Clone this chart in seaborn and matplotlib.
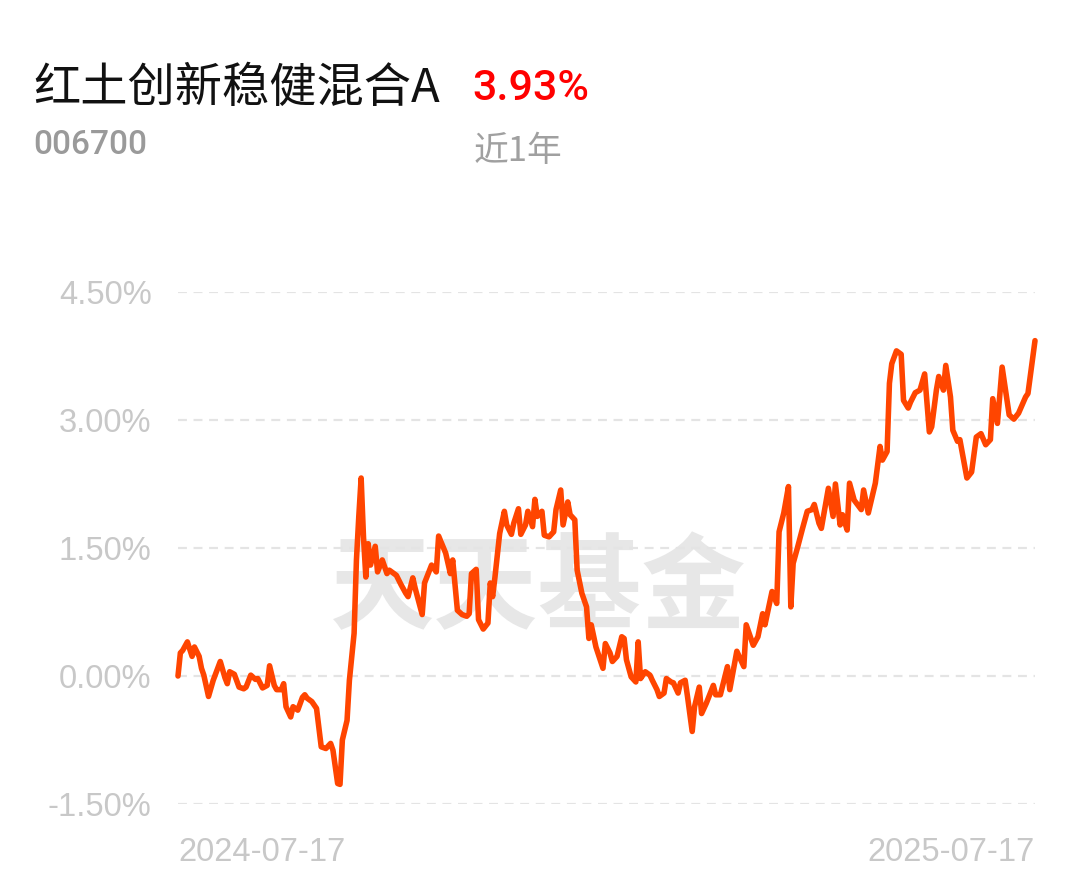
import numpy as np
import pandas as pd
import matplotlib
matplotlib.use("Agg")
import matplotlib.pyplot as plt
import seaborn as sns

# ---------------- data ----------------
fund_name = "红土创新稳健混合A"
fund_code = "006700"
period_return = "3.93%"
period_label = "近1年"
watermark = "天天基金"

start_date = "2024-07-17"
end_date = "2025-07-17"

day_offsets = [
    0, 1, 2, 4, 6, 7, 9, 10, 11, 13, 15, 18, 20, 21, 22, 24, 26, 28, 29, 31,
    33, 34, 36, 38, 39, 41, 42, 44, 45, 46, 48, 49, 51, 53, 54, 55, 57, 59, 61, 63,
    65, 66, 68, 69, 70, 72, 73, 75, 76, 77, 78, 79, 80, 81, 82, 84, 85, 87, 89, 90,
    93, 95, 97, 98, 100, 101, 104, 105, 108, 110, 111, 114, 116, 117, 119, 121, 123, 124, 125, 127,
    128, 130, 132, 133, 134, 135, 137, 139, 140, 142, 143, 145, 146, 148, 149, 151, 152, 153, 155, 156,
    158, 160, 161, 163, 164, 166, 167, 169, 170, 172, 174, 175, 176, 178, 181, 182, 184, 185, 187, 189,
    190, 191, 193, 195, 196, 197, 199, 201, 202, 204, 205, 207, 208, 210, 211, 213, 214, 216, 217, 219,
    220, 222, 223, 225, 228, 229, 231, 234, 235, 238, 241, 242, 245, 247, 249, 250, 253, 255, 256, 258,
    260, 261, 262, 264, 266, 268, 270, 271, 273, 274, 277, 279, 280, 282, 283, 285, 286, 288, 291, 292,
    294, 296, 297, 299, 300, 302, 303, 304, 306, 308, 309, 311, 312, 314, 316, 318, 320, 321, 323, 324,
    326, 327, 329, 330, 332, 333, 336, 338, 340, 342, 344, 346, 347, 349, 351, 354, 356, 358, 361, 362,
    365,
]

returns = [
    0.00, 0.27, 0.30, 0.40, 0.23, 0.34, 0.23, 0.09, 0.01, -0.24, -0.05, 0.17, -0.02, -0.09, 0.05, 0.02, -0.13, -0.15, -0.13, 0.01,
    -0.04, -0.03, -0.14, -0.11, 0.12, -0.11, -0.16, -0.16, -0.09, -0.36, -0.48, -0.36, -0.40, -0.25, -0.22, -0.26, -0.30, -0.38, -0.83, -0.85,
    -0.79, -0.87, -1.26, -1.27, -0.75, -0.52, -0.05, 0.50, 1.36, 1.87, 2.32, 1.63, 1.16, 1.55, 1.30, 1.52, 1.22, 1.36, 1.20, 1.24,
    1.18, 1.07, 0.97, 0.93, 1.15, 1.03, 0.72, 1.09, 1.30, 1.22, 1.64, 1.44, 1.20, 1.36, 0.77, 0.72, 0.70, 0.73, 1.20, 1.25,
    0.66, 0.55, 0.62, 1.09, 0.93, 1.16, 1.67, 1.93, 1.77, 1.66, 1.79, 1.96, 1.66, 1.77, 1.93, 1.75, 2.07, 1.87, 1.93, 1.65,
    1.63, 1.69, 1.95, 2.18, 1.77, 2.04, 1.89, 1.83, 1.24, 0.97, 0.81, 0.44, 0.60, 0.34, 0.09, 0.38, 0.27, 0.17, 0.23, 0.46,
    0.44, 0.19, -0.01, -0.07, 0.40, -0.03, 0.05, 0.01, -0.05, -0.16, -0.24, -0.20, -0.03, -0.07, -0.08, -0.20, -0.08, -0.05, -0.24, -0.65,
    -0.36, -0.13, -0.44, -0.32, -0.11, -0.22, -0.22, 0.11, -0.16, 0.29, 0.11, 0.60, 0.36, 0.46, 0.73, 0.60, 0.99, 0.85, 1.69, 1.91,
    2.22, 0.81, 1.32, 1.52, 1.73, 1.93, 1.95, 2.01, 1.79, 1.73, 2.20, 1.87, 2.25, 1.77, 1.89, 1.71, 2.26, 2.06, 1.95, 2.18,
    1.91, 2.14, 2.26, 2.69, 2.53, 2.63, 3.43, 3.66, 3.81, 3.77, 3.23, 3.14, 3.21, 3.32, 3.35, 3.54, 2.86, 2.92, 3.35, 3.51,
    3.35, 3.64, 3.27, 2.88, 2.75, 2.77, 2.32, 2.39, 2.80, 2.84, 2.71, 2.77, 3.25, 2.96, 3.62, 3.06, 3.01, 3.08, 3.27, 3.31,
    3.93,
]

y_ticks = [-1.5, 0.0, 1.5, 3.0, 4.5]
y_tick_labels = ["-1.50%", "0.00%", "1.50%", "3.00%", "4.50%"]
x_tick_labels = ["2024-07-17", "2025-07-17"]

# ---------------- plot ----------------
sns.set_theme(style="white")
plt.rcParams["font.family"] = ["Liberation Sans", "Noto Sans CJK SC", "DejaVu Sans"]

dates = pd.Timestamp(start_date) + pd.to_timedelta(day_offsets, unit="D")
df = pd.DataFrame({"date": dates, "ret": returns})

W, H = 1080, 881
fig = plt.figure(figsize=(W / 100, H / 100), dpi=100)
fig.patch.set_facecolor("white")

ax = fig.add_axes([178 / W, 1 - 804 / H, (1035 - 178) / W, (804 - 292) / H])
ax.set_facecolor("white")

# watermark
ax.text(0.42, 0.418, watermark, transform=ax.transAxes, fontsize=75,
        family=["Noto Sans CJK SC"], weight="bold", color="#e7e7e7",
        ha="center", va="center", zorder=0)

for yt in y_ticks:
    ax.axhline(yt, color="#e4e4e4", lw=1.6, ls=(0, (4, 3)), zorder=1)

sns.lineplot(data=df, x="date", y="ret", ax=ax, color="#FF4500", lw=4.0,
             zorder=3, solid_joinstyle="round", solid_capstyle="round",
             clip_on=False)

ax.set_xlim(pd.Timestamp(start_date), pd.Timestamp(end_date))
ax.set_ylim(-1.5, 4.5)
ax.set_yticks(y_ticks)
ax.set_yticklabels(y_tick_labels)
ax.set_xticks([pd.Timestamp(start_date), pd.Timestamp(end_date)])
ax.set_xticklabels(x_tick_labels)
ax.tick_params(axis="y", length=0, pad=19, labelsize=23.5, labelcolor="#c8c8c8")
ax.tick_params(axis="x", length=0, pad=24, labelsize=23.5, labelcolor="#c8c8c8")
xl = ax.get_xticklabels()
xl[0].set_ha("left")
xl[1].set_ha("right")
ax.set_xlabel("")
ax.set_ylabel("")
for s in ax.spines.values():
    s.set_visible(False)
ax.grid(False)

# header texts
fig.text(33 / W, 1 - 89 / H, fund_name, fontsize=34, family=["Noto Sans CJK SC"],
         color="#111111", ha="left", va="center")
fig.text(472 / W, 1 - 89 / H, period_return, fontsize=31, family=["Roboto"],
         weight="medium", color="#FF0000", ha="left", va="center")
fig.text(33 / W, 1 - 145 / H, fund_code, fontsize=24, family=["Roboto"],
         weight="medium", color="#9a9a9a", ha="left", va="center")
fig.text(474 / W, 1 - 152 / H, period_label, fontsize=25,
         family=["Noto Sans CJK SC"], color="#a0a0a0", ha="left", va="center")

fig.savefig("out.png", dpi=100, facecolor="white")
